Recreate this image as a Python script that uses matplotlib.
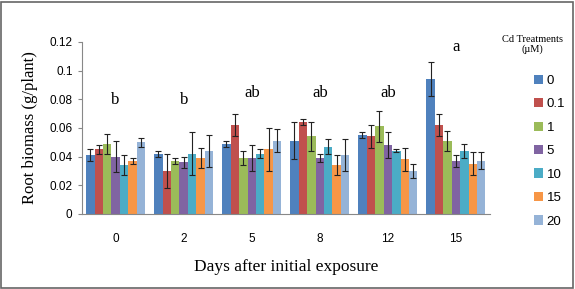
import matplotlib.pyplot as plt
import numpy as np
from matplotlib.patches import Rectangle

days = ['0', '2', '5', '8', '12', '15']
treatments = ['0', '0.1', '1', '5', '10', '15', '20']

# mean root biomass per treatment, one list per day
mean_0 = [0.041, 0.045, 0.049, 0.040, 0.034, 0.037, 0.050]
mean_2 = [0.042, 0.030, 0.037, 0.036, 0.042, 0.039, 0.044]
mean_5 = [0.049, 0.062, 0.039, 0.039, 0.042, 0.045, 0.051]
mean_8 = [0.051, 0.064, 0.054, 0.039, 0.047, 0.034, 0.041]
mean_12 = [0.055, 0.054, 0.061, 0.048, 0.044, 0.038, 0.030]
mean_15 = [0.094, 0.062, 0.051, 0.037, 0.044, 0.035, 0.037]

err_0 = [0.004, 0.003, 0.007, 0.011, 0.007, 0.002, 0.003]
err_2 = [0.002, 0.012, 0.002, 0.004, 0.015, 0.007, 0.011]
err_5 = [0.002, 0.008, 0.005, 0.009, 0.003, 0.015, 0.008]
err_8 = [0.013, 0.002, 0.010, 0.003, 0.005, 0.007, 0.011]
err_12 = [0.002, 0.008, 0.011, 0.009, 0.001, 0.008, 0.005]
err_15 = [0.012, 0.008, 0.007, 0.004, 0.005, 0.008, 0.006]

letters = ['b', 'b', 'ab', 'ab', 'ab', 'a']
letter_y = [0.074, 0.074, 0.079, 0.079, 0.079, 0.111]

colors = ['#4F81BD', '#C0504D', '#9BBB59', '#8064A2', '#4BACC6', '#F79646', '#95B3D7']

means = np.array([mean_0, mean_2, mean_5, mean_8, mean_12, mean_15])
errs = np.array([err_0, err_2, err_5, err_8, err_12, err_15])

fig = plt.figure(figsize=(5.75, 2.89), dpi=100)
ax = fig.add_axes([0.142, 0.26, 0.71, 0.595])

x = np.arange(len(days))
w = 0.87 / len(treatments)
for i, t in enumerate(treatments):
    pos = x - 0.435 + w * (i + 0.5)
    ax.bar(pos, means[:, i], w, color=colors[i], label=t, edgecolor='none',
           yerr=errs[:, i], ecolor='#222222', capsize=2.5,
           error_kw=dict(elinewidth=0.8, capthick=0.8))

for xi, s, yv in zip(x, letters, letter_y):
    ax.text(xi, yv, s, ha='center', va='bottom', family='Liberation Serif', fontsize=12)

ax.set_xlim(-0.5, 5.5)
ax.set_ylim(0, 0.12)
ax.set_yticks([0, 0.02, 0.04, 0.06, 0.08, 0.1, 0.12])
ax.set_yticklabels(['0', '0.02', '0.04', '0.06', '0.08', '0.1', '0.12'])
ax.set_xticks(x)
ax.set_xticklabels(days)
for s in ['top', 'right']:
    ax.spines[s].set_visible(False)
ax.spines['left'].set_color('#888888')
ax.spines['bottom'].set_color('#888888')
ax.tick_params(axis='x', length=0, pad=14, labelsize=8.5)
ax.tick_params(axis='y', length=3, color='#888888', labelsize=8.5)
for lab in ax.get_xticklabels() + ax.get_yticklabels():
    lab.set_family('Liberation Sans')

ax.set_ylabel('Root biomass (g/plant)', family='Liberation Serif', fontsize=12, labelpad=8)
ax.set_xlabel('Days after initial exposure', family='Liberation Serif', fontsize=12.5, labelpad=10)

leg = ax.legend(loc='upper left', bbox_to_anchor=(527 / 575, 1 - 68 / 289),
                bbox_transform=fig.transFigure, frameon=False, borderpad=0,
                handlelength=0.7, handleheight=0.7,
                handletextpad=0.3, labelspacing=0.85, fontsize=9.5)
for t in leg.get_texts():
    t.set_family('Liberation Sans')

fig.text(532 / 575, 1 - 35 / 289, 'Cd Treatments\n(µM)', ha='center', va='top',
         family='Liberation Serif', fontsize=7.5, linespacing=1.1)

fig.patches.append(Rectangle((0.002, 0.004), 0.995, 0.99, transform=fig.transFigure,
                             fill=False, edgecolor='#666666', linewidth=1.2))

fig.savefig('out.png', dpi=100)
